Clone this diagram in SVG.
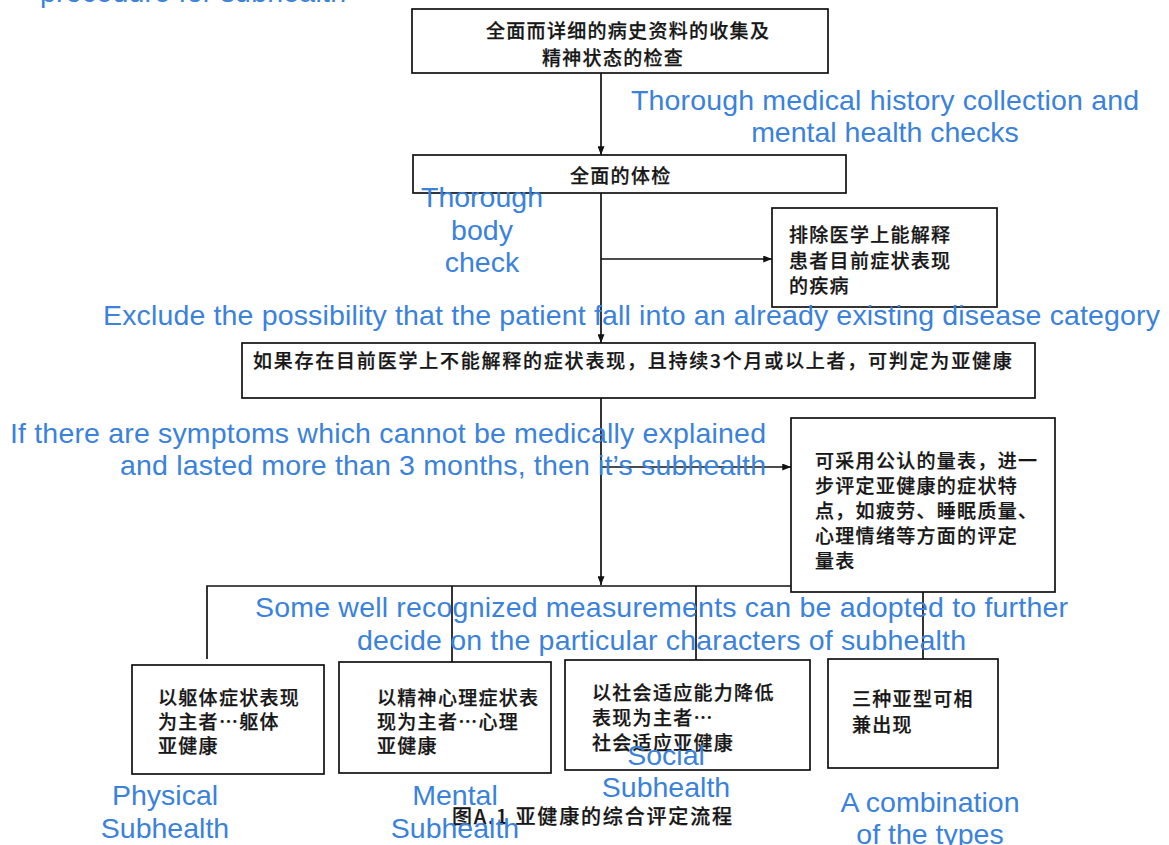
<svg xmlns="http://www.w3.org/2000/svg" width="1169" height="845" viewBox="0 0 1169 845">
<defs>
<marker id="arr" viewBox="0 0 10 8" refX="10" refY="4" markerWidth="10" markerHeight="7" markerUnits="userSpaceOnUse" orient="auto">
<path d="M0,0 L10,4 L0,8 z" fill="#111"/>
</marker>
<style>
.box{fill:#fff;stroke:#111;stroke-width:1.7}
.cn{font-family:"Noto Sans CJK SC","Noto Sans CJK JP",sans-serif;font-size:19px;font-weight:500;letter-spacing:1.3px;fill:#161616;stroke:#161616;stroke-width:0.25px}
.ln{fill:none;stroke:#111;stroke-width:1.7}
.en{font-family:"Liberation Sans",Arial,sans-serif;font-size:28.5px;fill:#3a82dc}
.mid{text-anchor:middle}
</style>
</defs>
<rect width="1169" height="845" fill="#fff"/>

<g id="connectors">
<path class="ln" d="M601,73 V155" marker-end="url(#arr)"/>
<path class="ln" d="M601,193 V343" marker-end="url(#arr)"/>
<path class="ln" d="M601,259 H772" marker-end="url(#arr)"/>
<path class="ln" d="M601,398 V585" marker-end="url(#arr)"/>
<path class="ln" d="M601,467 H791" marker-end="url(#arr)"/>
<path class="ln" d="M207,659 V586 H791"/>
<path class="ln" d="M452,586 V662"/>
<path class="ln" d="M696,586 V660"/>
<path class="ln" d="M923,592 V659"/>
</g>

<g id="n1">
<rect class="box" x="412" y="9" width="416" height="64"/>
<text class="cn" x="486" y="38">全面而详细的病史资料的收集及</text>
<text class="cn" x="542" y="65">精神状态的检查</text>
</g>
<g id="n2">
<rect class="box" x="413" y="155" width="433" height="38"/>
<text class="cn" x="570" y="183">全面的体检</text>
</g>
<g id="n3">
<rect class="box" x="772" y="208" width="225" height="99"/>
<text class="cn" x="789" y="242">排除医学上能解释</text>
<text class="cn" x="789" y="268">患者目前症状表现</text>
<text class="cn" x="789" y="293">的疾病</text>
</g>
<g id="n4">
<rect class="box" x="242" y="343" width="793" height="55"/>
<text class="cn" x="253" y="368" textLength="760" lengthAdjust="spacing">如果存在目前医学上不能解释的症状表现，且持续3个月或以上者，可判定为亚健康</text>
</g>
<g id="n5">
<rect class="box" x="791" y="418" width="264" height="174"/>
<text class="cn" x="815" y="468">可采用公认的量表，进一</text>
<text class="cn" x="815" y="493">步评定亚健康的症状特</text>
<text class="cn" x="815" y="518">点，如疲劳、睡眠质量、</text>
<text class="cn" x="815" y="543">心理情绪等方面的评定</text>
<text class="cn" x="815" y="568">量表</text>
</g>
<g id="n6">
<rect class="box" x="132" y="665" width="192" height="109"/>
<text class="cn" x="158" y="705">以躯体症状表现</text>
<text class="cn" x="158" y="729">为主者…躯体</text>
<text class="cn" x="158" y="753">亚健康</text>
</g>
<g id="n7">
<rect class="box" x="339" y="662" width="212" height="111"/>
<text class="cn" x="377" y="705">以精神心理症状表</text>
<text class="cn" x="377" y="729">现为主者…心理</text>
<text class="cn" x="377" y="753">亚健康</text>
</g>
<g id="n8">
<rect class="box" x="565" y="660" width="245" height="110"/>
<text class="cn" x="592" y="700">以社会适应能力降低</text>
<text class="cn" x="592" y="725">表现为主者…</text>
<text class="cn" x="592" y="750">社会适应亚健康</text>
</g>
<g id="n9">
<rect class="box" x="828" y="659" width="170" height="109"/>
<text class="cn" x="852" y="706">三种亚型可相</text>
<text class="cn" x="852" y="732">兼出现</text>
</g>

<g id="caption">
<text class="cn" x="452" y="824" style="font-size:20px;letter-spacing:0" textLength="280" lengthAdjust="spacing">图A.1 亚健康的综合评定流程</text>
</g>

<g id="annotations">
<text class="en" x="40" y="2" textLength="306" lengthAdjust="spacing">procedure for subhealth</text>
<text class="en" x="631" y="110" textLength="508" lengthAdjust="spacing">Thorough medical history collection and</text>
<text class="en mid" x="885" y="142">mental health checks</text>
<text class="en mid" x="482" y="207">Thorough</text>
<text class="en mid" x="482" y="240">body</text>
<text class="en mid" x="482" y="272">check</text>
<text class="en" x="103" y="325" textLength="1057" lengthAdjust="spacing">Exclude the possibility that the patient fall into an already existing disease category</text>
<text class="en" x="10" y="443" textLength="756" lengthAdjust="spacing">If there are symptoms which cannot be medically explained</text>
<text class="en" x="120" y="475" textLength="646" lengthAdjust="spacing">and lasted more than 3 months, then it’s subhealth</text>
<text class="en" x="255" y="617" textLength="813" lengthAdjust="spacing">Some well recognized measurements can be adopted to further</text>
<text class="en" x="357" y="650" textLength="609" lengthAdjust="spacing">decide on the particular characters of subhealth</text>
<text class="en mid" x="165" y="805">Physical</text>
<text class="en mid" x="165" y="838">Subhealth</text>
<text class="en mid" x="455" y="805">Mental</text>
<text class="en mid" x="455" y="838">Subhealth</text>
<text class="en mid" x="666" y="765">Social</text>
<text class="en mid" x="666" y="797">Subhealth</text>
<text class="en mid" x="930" y="812">A combination</text>
<text class="en mid" x="930" y="844">of the types</text>
</g>
</svg>
